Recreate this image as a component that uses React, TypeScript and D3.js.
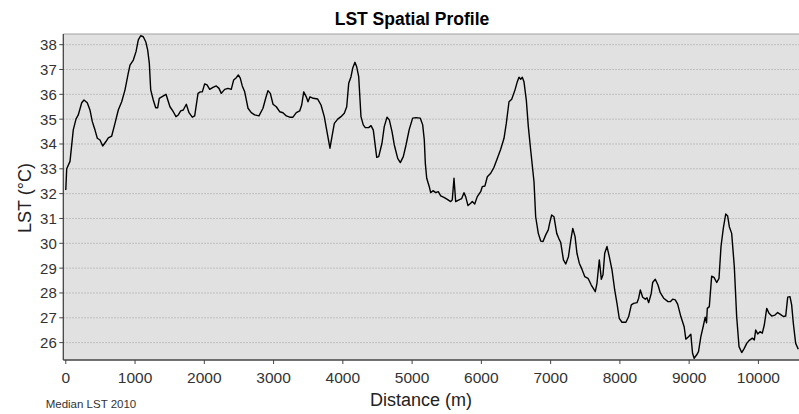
import React from "react";
import * as d3 from "d3";

const distances = [
  0, 13, 61, 108, 147, 180, 230, 263, 310, 349, 383, 422, 455, 494, 533, 580, 614, 663, 710, 758,
  807, 855, 902, 927, 975, 1014, 1047, 1081, 1119, 1154, 1182, 1206, 1226, 1263, 1298, 1327, 1350, 1385, 1447, 1465,
  1504, 1552, 1591, 1624, 1659, 1696, 1740, 1779, 1826, 1861, 1909, 1942, 1971, 2005, 2039, 2078, 2125, 2173, 2212, 2245,
  2294, 2342, 2389, 2424, 2462, 2491, 2519, 2548, 2583, 2631, 2678, 2727, 2789, 2847, 2886, 2919, 2953, 2992, 3039, 3088,
  3136, 3184, 3233, 3280, 3328, 3377, 3406, 3435, 3472, 3497, 3526, 3573, 3637, 3685, 3732, 3767, 3814, 3843, 3877, 3926,
  3973, 4021, 4056, 4085, 4118, 4142, 4175, 4200, 4229, 4262, 4295, 4324, 4373, 4407, 4440, 4489, 4518, 4565, 4598, 4638,
  4671, 4710, 4743, 4792, 4830, 4873, 4912, 4959, 5008, 5056, 5118, 5153, 5176, 5191, 5211, 5248, 5268, 5302, 5341, 5378,
  5413, 5460, 5508, 5557, 5580, 5605, 5629, 5677, 5716, 5749, 5773, 5807, 5846, 5869, 5904, 5941, 5990, 6013, 6052, 6086,
  6135, 6182, 6230, 6279, 6327, 6360, 6399, 6438, 6486, 6519, 6543, 6568, 6591, 6615, 6649, 6678, 6712, 6760, 6784, 6822,
  6857, 6890, 6929, 6966, 6986, 7015, 7048, 7088, 7117, 7146, 7185, 7218, 7257, 7291, 7320, 7353, 7380, 7414, 7453, 7492,
  7540, 7587, 7645, 7669, 7703, 7732, 7756, 7781, 7814, 7847, 7886, 7925, 7958, 7991, 8030, 8087, 8127, 8165, 8199, 8247,
  8271, 8295, 8329, 8367, 8391, 8416, 8453, 8473, 8511, 8550, 8583, 8632, 8695, 8728, 8762, 8800, 8834, 8880, 8928, 8952,
  8991, 9024, 9049, 9072, 9107, 9135, 9169, 9202, 9231, 9251, 9262, 9291, 9325, 9359, 9398, 9431, 9460, 9493, 9528, 9556,
  9580, 9614, 9652, 9686, 9720, 9759, 9796, 9831, 9864, 9912, 9941, 9961, 9990, 10023, 10056, 10085, 10120, 10153, 10192, 10239,
  10278, 10312, 10360, 10394, 10423, 10456, 10480, 10504, 10538, 10576,
];

const lst = [
  32.15, 33.0, 33.3, 34.57, 35.0, 35.17, 35.66, 35.77, 35.66, 35.37, 34.9, 34.56, 34.23, 34.16, 33.92, 34.1, 34.25, 34.32, 34.83, 35.37,
  35.7, 36.18, 36.85, 37.18, 37.38, 37.72, 38.19, 38.36, 38.32, 38.12, 37.79, 37.25, 36.18, 35.77, 35.46, 35.46, 35.84, 35.9, 36.0, 35.84,
  35.5, 35.3, 35.1, 35.17, 35.33, 35.37, 35.6, 35.26, 35.08, 35.13, 36.04, 36.1, 36.1, 36.42, 36.38, 36.2, 36.28, 36.34, 36.24, 36.04,
  36.2, 36.24, 36.2, 36.58, 36.67, 36.78, 36.65, 36.34, 36.1, 35.44, 35.26, 35.17, 35.13, 35.44, 35.84, 36.15, 36.04, 35.6, 35.5, 35.3,
  35.26, 35.13, 35.08, 35.08, 35.26, 35.33, 35.57, 36.1, 35.9, 35.7, 35.9, 35.84, 35.81, 35.57, 35.1, 34.56, 33.83, 34.3, 34.83, 35.0,
  35.1, 35.24, 35.5, 36.45, 36.71, 37.05, 37.29, 37.11, 36.71, 35.1, 34.77, 34.66, 34.66, 34.74, 34.56, 33.46, 33.49, 34.03, 34.7, 35.08,
  34.97, 34.5, 33.96, 33.42, 33.25, 33.49, 33.96, 34.59, 35.04, 35.06, 35.04, 34.77, 34.16, 33.22, 32.62, 32.28, 32.04, 32.12, 32.04, 32.08,
  31.91, 31.85, 31.77, 31.68, 31.75, 32.62, 31.68, 31.75, 31.8, 32.04, 31.88, 31.52, 31.61, 31.68, 31.58, 31.88, 32.08, 32.28, 32.31, 32.68,
  32.82, 33.06, 33.42, 33.79, 34.23, 34.83, 35.7, 35.8, 36.18, 36.51, 36.69, 36.61, 36.69, 36.51, 35.77, 34.7, 33.76, 32.48, 31.07, 30.4,
  30.09, 30.07, 30.34, 30.54, 30.81, 31.14, 31.07, 30.4, 30.2, 30.03, 29.33, 29.17, 29.46, 30.13, 30.6, 30.27, 29.6, 29.2, 28.95, 28.66,
  28.59, 28.32, 28.05, 28.39, 29.33, 28.55, 28.73, 29.6, 29.87, 29.46, 28.93, 28.12, 27.58, 26.98, 26.82, 26.82, 27.05, 27.52, 27.58, 27.61,
  27.79, 28.12, 27.83, 27.75, 27.81, 27.61, 27.99, 28.42, 28.55, 28.32, 28.01, 27.79, 27.65, 27.65, 27.75, 27.72, 27.55, 27.05, 26.64, 26.14,
  26.24, 26.34, 25.57, 25.37, 25.5, 25.64, 26.24, 26.64, 27.02, 26.8, 27.38, 27.45, 28.68, 28.63, 28.42, 28.59, 29.87, 30.6, 31.18, 31.1,
  30.67, 30.4, 29.06, 27.05, 25.84, 25.6, 25.77, 25.97, 26.08, 26.18, 26.11, 26.51, 26.35, 26.44, 26.38, 26.71, 27.38, 27.18, 27.07, 27.11,
  27.21, 27.15, 27.05, 27.07, 27.83, 27.85, 27.52, 26.78, 25.97, 25.73,
];

const xTicks = [0, 1000, 2000, 3000, 4000, 5000, 6000, 7000, 8000, 9000, 10000];
const yTicks = [26, 27, 28, 29, 30, 31, 32, 33, 34, 35, 36, 37, 38];

const W = 799;
const H = 414;
const left = 63.3;
const right = 799;
const top = 34;
const bottom = 360;

export default function App() {
  const x = d3.scaleLinear().domain([-36, 10586]).range([left, right]);
  const y = d3.scaleLinear().domain([25.3, 38.43]).range([bottom, top]);
  const pts: [number, number][] = distances.map((d, i) => [d, lst[i]]);
  const line = d3
    .line<[number, number]>()
    .x((p) => x(p[0]))
    .y((p) => y(p[1]));
  const font = "'Liberation Sans', Arial, sans-serif";
  return (
    <svg
      width={W}
      height={H}
      style={{ position: "absolute", left: 0, top: 0, background: "#fff" }}
      fontFamily={font}
    >
      <rect x={left} y={top} width={right - left} height={bottom - top} fill="#e1e1e1" />
      {yTicks.map((t) => (
        <line
          key={"g" + t}
          x1={left}
          x2={right}
          y1={y(t)}
          y2={y(t)}
          stroke="#a8a8a8"
          strokeWidth={0.8}
          strokeDasharray="1.5,1.5"
        />
      ))}
      <line x1={left} x2={right} y1={top} y2={top} stroke="#a0a0a0" strokeWidth={1} />
      <path d={line(pts) || ""} fill="none" stroke="#000" strokeWidth={1.4} strokeLinejoin="round" />
      <line x1={left} x2={left} y1={top} y2={bottom} stroke="#444" strokeWidth={1.3} />
      <line x1={left} x2={right} y1={bottom} y2={bottom} stroke="#444" strokeWidth={1.3} />
      {yTicks.map((t) => (
        <g key={"y" + t}>
          <line x1={left - 4} x2={left} y1={y(t)} y2={y(t)} stroke="#444" strokeWidth={1} />
          <text x={left - 6.5} y={y(t)} dy="0.36em" textAnchor="end" fontSize={15} fill="#333">
            {t}
          </text>
        </g>
      ))}
      {xTicks.map((t) => (
        <g key={"x" + t}>
          <line x1={x(t)} x2={x(t)} y1={bottom} y2={bottom + 4} stroke="#444" strokeWidth={1} />
          <text x={x(t)} y={383.3} textAnchor="middle" fontSize={15.5} fill="#333">
            {t}
          </text>
        </g>
      ))}
      <text x={412} y={25} textAnchor="middle" fontSize={17.5} fontWeight="bold" fill="#000">
        LST Spatial Profile
      </text>
      <text
        transform={`translate(31,198) rotate(-90)`}
        textAnchor="middle"
        fontSize={18}
        fill="#222"
      >
        LST (°C)
      </text>
      <text x={421} y={406} textAnchor="middle" fontSize={18} fill="#222">
        Distance (m)
      </text>
      <text x={45.7} y={408} fontSize={11.5} fill="#333">
        Median LST 2010
      </text>
    </svg>
  );
}
